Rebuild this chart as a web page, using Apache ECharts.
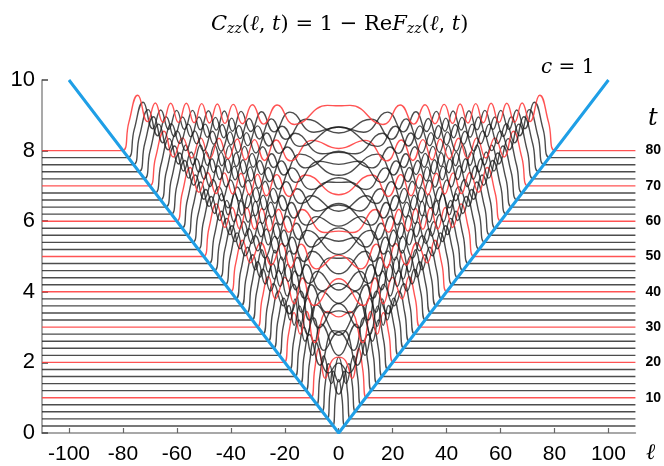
<!DOCTYPE html>
<html><head><meta charset="utf-8">
<script src="https://cdn.jsdelivr.net/npm/echarts@6/dist/echarts.min.js"></script>
<style>html,body{margin:0;padding:0;background:#fff}#c{width:664px;height:466px}</style>
</head><body><div id="c"></div>
<script>
// times of the curves (each curve is drawn offset by t/10)
const times = [2,4,6,8,10,12,14,16,18,20,22,24,26,28,30,32,34,36,38,40,42,44,46,48,50,52,54,56,58,60,62,64,66,68,70,72,74,76,78,80];

// half-profiles [ell >= 0, C_zz] (curves are symmetric in ell)
const h2 = [[0,1.32],[1.2,0.8],[2.3,0]];
const h4 = [[0,1.05],[2,1.35],[3.2,0.8],[4.3,0]];
const h6 = [[0,0.5],[3.7,1.36],[5.0,0.8],[6.3,0]];
const h8 = [[0,1.35],[2.7,0.6],[5.5,1.38],[7.0,0.8],[8.3,0]];
const h10 = [[0,1.15],[2.5,1.05],[5,0.55],[7.4,1.4],[8.9,0.8],[10.3,0]];
const h12 = [[0,0.78],[3.7,0.5],[9.0,1.42],[10.8,0.8],[12.3,0]];
const h14 = [[0,1.48],[2,1.5],[6.9,0.52],[10.9,1.39],[12.8,0.8],[14.3,0]];
const h16 = [[0,0.6],[6.4,1.48],[9.8,0.6],[12.8,1.4],[14.7,0.8],[16.3,0]];
const h18 = [[0,1.06],[5.5,0.54],[9.3,1.46],[12.5,0.8],[14.7,1.4],[16.7,0.8],[18.3,0]];
const h20 = [[0,1.29],[4.1,1.44],[8.9,0.56],[11.9,1.44],[14.3,0.8],[16.5,1.41],[18.6,0.8],[20.3,0]];
const h22 = [[0,0.57],[8.3,1.43],[11.7,0.6],[14.5,1.4],[16.5,0.85],[18.4,1.41],[20.6,0.8],[22.3,0]];
const h24 = [[0,1.27],[7.4,0.58],[11.4,1.42],[14.3,0.62],[16.2,1.4],[18,0.8],[20.3,1.42],[22.5,0.8],[24.3,0]];
const h26 = [[0,1.07],[6,1.41],[10.9,0.6],[14.1,1.42],[18.3,0.78],[22.2,1.42],[24.5,0.8],[26.3,0]];
const h28 = [[0,0.66],[3.9,0.6],[10.2,1.4],[13.8,0.62],[16.7,1.41],[20.5,0.8],[24.1,1.43],[26.4,0.8],[28.3,0]];
const h30 = [[0,1.37],[9.2,0.61],[13.4,1.39],[16.5,0.66],[20,1.41],[23.5,0.8],[26,1.43],[28.4,0.8],[30.3,0]];
const h32 = [[0,0.85],[7.9,1.38],[12.8,0.62],[16.3,1.39],[19.1,0.68],[22.2,1.4],[25.3,0.82],[28,1.44],[30.4,0.8],[32.3,0]];
const h34 = [[0,0.84],[6.2,0.63],[12,1.37],[15.9,0.66],[18.9,1.38],[21.7,0.75],[24.4,1.4],[27.2,0.82],[29.9,1.45],[32.3,0.8],[34.3,0]];
const h36 = [[0,1.35],[3,1.36],[11.1,0.64],[15.3,1.37],[18.7,0.69],[21.3,1.39],[23.9,0.76],[26.5,1.4],[29.1,0.82],[31.8,1.45],[34.3,0.8],[36.3,0]];
const h38 = [[0,0.71],[9.8,1.35],[14.7,0.65],[18.3,1.36],[21.3,0.7],[23.7,1.38],[26.1,0.76],[28.5,1.39],[30.9,0.82],[33.7,1.46],[36.3,0.8],[38.3,0]];
const h40 = [[0,1.04],[8.2,0.65],[13.9,1.35],[17.8,0.68],[21.1,1.37],[25,0.76],[28.9,1.39],[32.8,0.82],[35.6,1.46],[38.2,0.8],[40.3,0]];
const h42 = [[0,1.23],[5.9,1.34],[12.9,0.66],[17.3,1.35],[20.7,0.69],[23.7,1.37],[27.4,0.76],[31,1.39],[34.7,0.82],[37.6,1.47],[40.2,0.8],[42.3,0]];
const h44 = [[0,0.66],[11.7,1.34],[16.6,0.67],[20.3,1.35],[23.5,0.7],[26.8,1.38],[30,0.76],[33.3,1.39],[36.6,0.82],[39.5,1.47],[42.2,0.8],[44.3,0]];
const h46 = [[0,1.21],[10.2,0.67],[15.7,1.34],[19.8,0.69],[23.2,1.35],[26.1,0.73],[29.2,1.38],[32.3,0.77],[35.3,1.39],[38.4,0.82],[41.4,1.48],[44.1,0.8],[46.3,0]];
const h48 = [[0,1.06],[8.2,1.33],[14.7,0.68],[19.2,1.34],[22.8,0.7],[25.9,1.36],[28.8,0.76],[31.7,1.38],[34.5,0.78],[37.4,1.39],[40.3,0.82],[43.4,1.48],[46.1,0.8],[48.3,0]];
const h50 = [[0,0.72],[5.2,0.68],[13.6,1.33],[18.5,0.69],[22.3,1.34],[25.6,0.72],[28.5,1.36],[31.2,0.77],[34,1.38],[36.7,0.78],[39.5,1.39],[42.2,0.82],[45.3,1.49],[48.1,0.8],[50.3,0]];
const h52 = [[0,1.3],[12.1,0.69],[17.6,1.33],[21.7,0.7],[25.2,1.34],[28.3,0.73],[30.9,1.37],[33.6,0.77],[36.2,1.38],[38.8,0.78],[41.5,1.39],[44.1,0.82],[47.2,1.5],[50.1,0.8],[52.3,0]];
const h54 = [[0,0.88],[10.3,1.32],[16.6,0.69],[21.1,1.33],[24.8,0.71],[28,1.34],[30.9,0.75],[33.4,1.37],[35.9,0.77],[38.5,1.38],[41,0.78],[43.5,1.38],[46,0.82],[49.2,1.5],[52.1,0.8],[54.3,0]];
const h56 = [[0,0.86],[7.8,0.69],[15.4,1.32],[20.3,0.7],[24.3,1.33],[27.7,0.72],[30.7,1.35],[34.1,0.77],[37.6,1.37],[41,0.78],[44.5,1.38],[48,0.82],[51.1,1.51],[54.1,0.8],[56.3,0]];
const h58 = [[0,1.3],[3.7,1.31],[14,0.7],[19.5,1.32],[23.7,0.71],[27.3,1.33],[30.4,0.74],[33.6,1.36],[36.9,0.77],[40.1,1.37],[43.4,0.78],[46.6,1.38],[49.9,0.82],[53.1,1.51],[56.1,0.8],[58.3,0]];
const h60 = [[0,0.75],[12.3,1.31],[18.4,0.7],[23,1.32],[26.8,0.72],[30.1,1.33],[33.1,0.75],[36.2,1.36],[39.3,0.77],[42.4,1.37],[45.5,0.78],[48.6,1.38],[51.8,0.82],[55,1.52],[58,0.8],[60.3,0]];
const h62 = [[0,1.03],[10.2,0.7],[17.3,1.31],[22.2,0.71],[26.2,1.32],[29.7,0.73],[32.8,1.34],[35.7,0.76],[38.7,1.36],[41.7,0.77],[44.7,1.37],[47.7,0.78],[50.7,1.37],[53.7,0.82],[57,1.52],[60,0.8],[62.3,0]];
const h64 = [[0,1.21],[7.2,1.3],[15.9,0.7],[21.3,1.31],[25.6,0.72],[29.3,1.32],[32.5,0.74],[35.5,1.34],[38.4,0.77],[41.2,1.36],[44.1,0.78],[47,1.37],[49.9,0.79],[52.7,1.37],[55.6,0.82],[58.9,1.53],[62,0.8],[64.3,0]];
const h66 = [[0,0.7],[14.3,1.3],[20.3,0.71],[24.9,1.31],[28.7,0.72],[32.1,1.32],[35.2,0.74],[38,1.34],[40.8,0.77],[43.6,1.35],[46.4,0.78],[49.1,1.36],[51.9,0.79],[54.7,1.36],[57.5,0.82],[60.8,1.53],[63.9,0.8],[66.3,0]];
const h68 = [[0,1.18],[12.3,0.71],[19.1,1.3],[24.1,0.72],[28.2,1.31],[31.7,0.73],[34.9,1.32],[37.9,0.75],[40.6,1.34],[43.3,0.77],[46,1.35],[48.7,0.78],[51.3,1.36],[54,0.79],[56.7,1.36],[59.4,0.82],[62.8,1.54],[65.9,0.8],[68.3,0]];
const h70 = [[0,1.06],[9.8,1.29],[17.8,0.71],[23.2,1.3],[27.5,0.72],[31.2,1.31],[34.6,0.74],[37.6,1.33],[41,0.77],[44.4,1.35],[47.8,0.78],[51.2,1.36],[54.5,0.79],[57.9,1.36],[61.3,0.82],[64.7,1.55],[67.9,0.8],[70.3,0]];
const h72 = [[0,0.75],[6.1,0.71],[16.2,1.29],[22.1,0.72],[26.7,1.3],[30.7,0.73],[34.2,1.31],[37.3,0.75],[40.3,1.33],[43.6,0.78],[46.8,1.35],[50.1,0.79],[53.4,1.36],[56.7,0.8],[59.9,1.36],[63.2,0.82],[66.7,1.55],[69.9,0.8],[72.3,0]];
const h74 = [[0,1.27],[14.4,0.72],[21,1.29],[25.9,0.73],[30.1,1.3],[33.7,0.74],[37,1.31],[40,0.76],[43.2,1.34],[46.3,0.78],[49.5,1.35],[52.6,0.79],[55.8,1.35],[58.9,0.8],[62.1,1.36],[65.2,0.82],[68.6,1.56],[71.9,0.8],[74.3,0]];
const h76 = [[0,0.9],[12.1,1.29],[19.6,0.72],[25,1.3],[29.4,0.73],[33.2,1.31],[36.6,0.74],[39.7,1.32],[42.6,0.76],[45.7,1.34],[48.7,0.78],[51.8,1.35],[54.8,0.79],[57.9,1.35],[61,0.8],[64,1.36],[67.1,0.82],[70.6,1.56],[73.9,0.8],[76.3,0]];
const h78 = [[0,0.87],[9.2,0.72],[18.1,1.29],[24,0.73],[28.6,1.3],[32.6,0.74],[36.2,1.31],[39.4,0.75],[42.4,1.32],[45.4,0.78],[48.3,1.33],[51.3,0.79],[54.2,1.34],[57.2,0.8],[60.1,1.34],[63.1,0.8],[66,1.35],[69,0.82],[72.5,1.57],[75.8,0.8],[78.3,0]];
const h80 = [[0,1.27],[4.2,1.28],[16.4,0.74],[22.8,1.29],[27.8,0.75],[32,1.3],[35.7,0.76],[39.1,1.31],[42.2,0.77],[45,1.32],[47.9,0.78],[50.8,1.33],[53.6,0.79],[56.5,1.34],[59.4,0.8],[62.3,1.34],[65.2,0.8],[68,1.35],[70.9,0.82],[74.5,1.57],[77.8,0.8],[80.3,0]];

const profiles = [h2,h4,h6,h8,h10,h12,h14,h16,h18,h20,h22,h24,h26,h28,h30,h32,h34,h36,h38,h40,
                  h42,h44,h46,h48,h50,h52,h54,h56,h58,h60,h62,h64,h66,h68,h70,h72,h74,h76,h78,h80];

const xTicks = [-100,-80,-60,-40,-20,0,20,40,60,80,100];
const tAxisValues = [1,2,3,4,5,6,7,8];
const tAxisLabels = ['10','20','30','40','50','60','70','80'];
const coneLine = [[-100,10],[0,0],[100,10]];
const X_MIN = -110, X_MAX = 110;
const T_SCALE = 0.1; // vertical offset of each curve = t/10

const series = [];
times.forEach((t, i) => {
  const half = profiles[i];
  const off = t * T_SCALE;
  const pts = [[X_MIN, off]];
  for (let k = half.length - 1; k >= 1; k--) pts.push([-half[k][0], half[k][1] + off]);
  for (let k = 0; k < half.length; k++) pts.push([half[k][0], half[k][1] + off]);
  pts.push([X_MAX, off]);
  const red = (t % 10 === 0);
  series.push({
    type: 'line', data: pts, smooth: 0.5, showSymbol: false, symbol: 'none',
    silent: true, z: 2,
    lineStyle: { color: red ? '#ff3b3b' : '#1a1a1a', width: 1.4, opacity: red ? 0.88 : 0.78 }
  });
});
series.push({
  type: 'line', data: coneLine, symbol: 'none', silent: true, z: 5,
  lineStyle: { color: '#1f9fe6', width: 3 }
});

const serif = 'DejaVu Serif';
const chart = echarts.init(document.getElementById('c'), null, { renderer: 'canvas' });
chart.setOption({
  animation: false,
  backgroundColor: '#fff',
  grid: { left: 42, right: 27, top: 80, bottom: 33, containLabel: false },
  title: {
    text: '{i|C}{s|zz}{n|(}{i|ℓ}{n|, }{i|t}{n|) = 1 − Re}{i|F}{s|zz}{n|(}{i|ℓ}{n|, }{i|t}{n|)}',
    left: 206, top: 8,
    textStyle: {
      fontWeight: 'normal',
      rich: {
        i: { fontFamily: serif, fontStyle: 'italic', fontWeight: 'normal', fontSize: 21, color: '#000' },
        n: { fontFamily: serif, fontWeight: 'normal', fontSize: 21, color: '#000' },
        s: { fontFamily: serif, fontStyle: 'italic', fontWeight: 'normal', fontSize: 14, color: '#000', padding: [9, 0, 0, 0] }
      }
    }
  },
  xAxis: {
    type: 'value', min: X_MIN, max: X_MAX,
    axisLine: { show: true, onZero: false, lineStyle: { color: '#8c8c8c', width: 1.5 } },
    axisTick: { show: true, inside: true, length: 5, customValues: xTicks, lineStyle: { color: '#666', width: 1.2 } },
    axisLabel: { customValues: xTicks, fontSize: 21, color: '#000', margin: 11, fontFamily: 'Liberation Sans' },
    splitLine: { show: false }
  },
  yAxis: [{
    type: 'value', min: 0, max: 10, interval: 2,
    axisLine: { show: true, onZero: false, lineStyle: { color: '#8c8c8c', width: 1.5 } },
    axisTick: { show: true, inside: true, length: 6, lineStyle: { color: '#444', width: 1.5 } },
    axisLabel: { fontSize: 22, color: '#000', margin: 7, fontFamily: 'Liberation Sans' },
    splitLine: { show: false }
  }, {
    type: 'value', position: 'right', min: 0, max: 10, interval: 1,
    axisLine: { show: false, onZero: false }, axisTick: { show: false }, splitLine: { show: false },
    axisLabel: {
      margin: 10, fontSize: 14, fontWeight: 'bold', color: '#000', fontFamily: 'Liberation Sans',
      formatter: v => { const k = tAxisValues.indexOf(v); return k >= 0 ? tAxisLabels[k] : ''; }
    }
  }],
  graphic: [
    { type: 'text', left: 541, top: 58, style: { text: '{i|c}{n| = 1}',
      rich: { i: { fontFamily: serif, fontStyle: 'italic', fontSize: 20, fill: '#000' },
              n: { fontFamily: serif, fontSize: 20, fill: '#000' } } } },
    { type: 'text', left: 648, top: 107, style: { text: 't', font: 'italic 24px "DejaVu Serif"', fill: '#000' } },
    { type: 'text', left: 646, top: 442, style: { text: 'ℓ', font: 'italic 22px "DejaVu Serif"', fill: '#000' } }
  ],
  series: series
});
</script></body></html>
